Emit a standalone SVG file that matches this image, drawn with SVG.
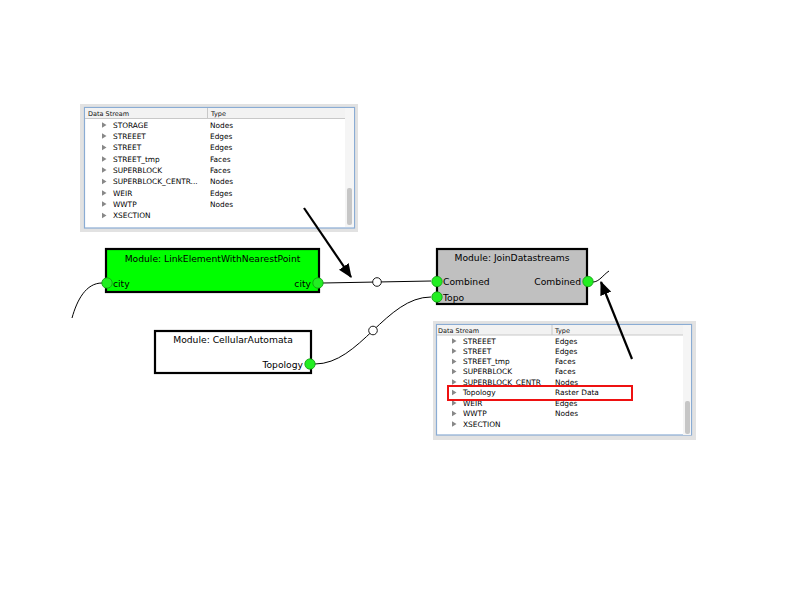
<svg xmlns="http://www.w3.org/2000/svg" width="800" height="600" viewBox="0 0 800 600">
<style>
.mod{stroke:#000;stroke-width:2.2}
.title{font-family:"DejaVu Sans",sans-serif;font-size:9.2px;fill:#000}
.port{fill:#22ee22;stroke:#119911;stroke-width:0.8}
.lbl{font-family:"DejaVu Sans",sans-serif;font-size:9.2px;fill:#000}
.wire{fill:none;stroke:#000;stroke-width:1}
.knot{fill:#fff;stroke:#000;stroke-width:0.9}
.ptr{stroke:#000;stroke-width:2.2;fill:none}
.outer{fill:#e2e2e2}
.inner{fill:#fff;stroke:#8aacd4;stroke-width:1.2}
.hdr{fill:#f2f2f2}
.hdrline{stroke:#c8c8c8;stroke-width:1}
.ht{font-family:"DejaVu Sans",sans-serif;font-size:6.5px;fill:#111}
.rt{font-family:"DejaVu Sans",sans-serif;font-size:7.4px;fill:#000}
.tri{fill:#888}
.track{fill:#f5f5f5}
.thumb{fill:#c6c6c6}
</style>
<defs>
<marker id="ah" markerWidth="14" markerHeight="12" refX="11" refY="5" orient="auto" markerUnits="userSpaceOnUse" viewBox="0 0 12 10">
<path d="M0,0 L12,5 L0,10 z" fill="#000"/>
</marker>
<polygon id="t" points="0,-2.8 4.5,0 0,2.8" class="tri"/>
</defs>
<rect width="800" height="600" fill="#fff"/>

<!-- top panel -->
<g id="panel-top">
<rect class="outer" x="80" y="104" width="278" height="128"/>
<rect class="inner" x="84.5" y="107.5" width="270" height="120.5"/>
<rect class="hdr" x="85" y="108" width="260" height="10"/>
<line class="hdrline" x1="85" y1="118.5" x2="345" y2="118.5"/>
<line class="hdrline" x1="207.5" y1="108" x2="207.5" y2="118"/>
<rect class="track" x="345" y="108" width="9" height="119"/>
<rect class="thumb" x="347" y="188" width="5" height="37" rx="2"/>
<text class="ht" x="88" y="116">Data Stream</text>
<text class="ht" x="211" y="116">Type</text>
<use href="#t" x="102" y="125"/><text class="rt" x="113" y="127.7">STORAGE</text><text class="rt" x="210" y="127.7">Nodes</text>
<use href="#t" x="102" y="136"/><text class="rt" x="113" y="138.7">STREEET</text><text class="rt" x="210" y="138.7">Edges</text>
<use href="#t" x="102" y="147.5"/><text class="rt" x="113" y="150.2">STREET</text><text class="rt" x="210" y="150.2">Edges</text>
<use href="#t" x="102" y="159"/><text class="rt" x="113" y="161.7">STREET_tmp</text><text class="rt" x="210" y="161.7">Faces</text>
<use href="#t" x="102" y="170"/><text class="rt" x="113" y="172.7">SUPERBLOCK</text><text class="rt" x="210" y="172.7">Faces</text>
<use href="#t" x="102" y="181.5"/><text class="rt" x="113" y="184.2">SUPERBLOCK_CENTR...</text><text class="rt" x="210" y="184.2">Nodes</text>
<use href="#t" x="102" y="193"/><text class="rt" x="113" y="195.7">WEIR</text><text class="rt" x="210" y="195.7">Edges</text>
<use href="#t" x="102" y="204"/><text class="rt" x="113" y="206.7">WWTP</text><text class="rt" x="210" y="206.7">Nodes</text>
<use href="#t" x="102" y="215.5"/><text class="rt" x="113" y="218.2">XSECTION</text>
</g>

<!-- bottom panel -->
<g id="panel-bottom">
<rect class="outer" x="433" y="321" width="263" height="119"/>
<rect class="inner" x="436.5" y="324.5" width="255" height="110.5"/>
<rect class="hdr" x="437" y="325" width="246" height="10"/>
<line class="hdrline" x1="437" y1="335" x2="683" y2="335"/>
<line class="hdrline" x1="552" y1="325" x2="552" y2="335"/>
<rect class="track" x="683" y="325" width="8" height="110"/>
<rect class="thumb" x="685" y="401" width="5" height="33" rx="2"/>
<text class="ht" x="438" y="332.5">Data Stream</text>
<text class="ht" x="555" y="332.5">Type</text>
<use href="#t" x="452" y="341"/><text class="rt" x="463" y="343.7">STREEET</text><text class="rt" x="555" y="343.7">Edges</text>
<use href="#t" x="452" y="351"/><text class="rt" x="463" y="353.7">STREET</text><text class="rt" x="555" y="353.7">Edges</text>
<use href="#t" x="452" y="361.5"/><text class="rt" x="463" y="364.2">STREET_tmp</text><text class="rt" x="555" y="364.2">Faces</text>
<use href="#t" x="452" y="371.5"/><text class="rt" x="463" y="374.2">SUPERBLOCK</text><text class="rt" x="555" y="374.2">Faces</text>
<use href="#t" x="452" y="382"/><text class="rt" x="463" y="384.7">SUPERBLOCK_CENTR</text><text class="rt" x="555" y="384.7">Nodes</text>
<use href="#t" x="452" y="392.5"/><text class="rt" x="463" y="395.2">Topology</text><text class="rt" x="555" y="395.2">Raster Data</text>
<use href="#t" x="452" y="403"/><text class="rt" x="463" y="405.7">WEIR</text><text class="rt" x="555" y="405.7">Edges</text>
<use href="#t" x="452" y="413.5"/><text class="rt" x="463" y="416.2">WWTP</text><text class="rt" x="555" y="416.2">Nodes</text>
<use href="#t" x="452" y="424"/><text class="rt" x="463" y="426.7">XSECTION</text>
<rect x="448" y="386" width="184" height="14" fill="none" stroke="#ee1111" stroke-width="2"/>
</g>

<!-- connectors -->
<g id="connectors">
<path class="wire" d="M323,283 L431,281"/>
<circle class="knot" cx="377" cy="282" r="4.3"/>
<path class="wire" d="M315,364 C360,364 386,297 431,297"/>
<circle class="knot" cx="373" cy="330.5" r="4.3"/>
<path class="wire" d="M102,283 C86,283 77,300 72,318"/>
<path class="wire" d="M593,282 C599,282 603,275 609,271"/>
<line class="ptr" x1="304" y1="208" x2="351" y2="277" marker-end="url(#ah)"/>
<line class="ptr" x1="632" y1="359" x2="601" y2="282" marker-end="url(#ah)"/>
</g>

<!-- modules -->
<g id="mod-link">
<rect class="mod" x="106" y="249" width="213" height="43" fill="#00ff00"/>
<text class="title" x="212.5" y="261.5" text-anchor="middle">Module: LinkElementWithNearestPoint</text>
<circle class="port" cx="107" cy="283" r="5.2"/>
<text class="lbl" x="113" y="286.5">city</text>
<circle class="port" cx="318" cy="283" r="5.2"/>
<text class="lbl" x="311" y="286.5" text-anchor="end">city</text>
</g>

<g id="mod-join">
<rect class="mod" x="437" y="249" width="150" height="55" fill="#c0c0c0"/>
<text class="title" x="512" y="261" text-anchor="middle">Module: JoinDatastreams</text>
<circle class="port" cx="437" cy="281.5" r="5.2"/>
<text class="lbl" x="443" y="285">Combined</text>
<circle class="port" cx="437" cy="297" r="5.2"/>
<text class="lbl" x="443" y="300.5">Topo</text>
<circle class="port" cx="588" cy="281.5" r="5.2"/>
<text class="lbl" x="581" y="285" text-anchor="end">Combined</text>
</g>

<g id="mod-ca">
<rect class="mod" x="155" y="331" width="156" height="42" fill="#fff"/>
<text class="title" x="233" y="342.5" text-anchor="middle">Module: CellularAutomata</text>
<circle class="port" cx="310" cy="364" r="5.2"/>
<text class="lbl" x="303" y="367.5" text-anchor="end">Topology</text>
</g>
</svg>
